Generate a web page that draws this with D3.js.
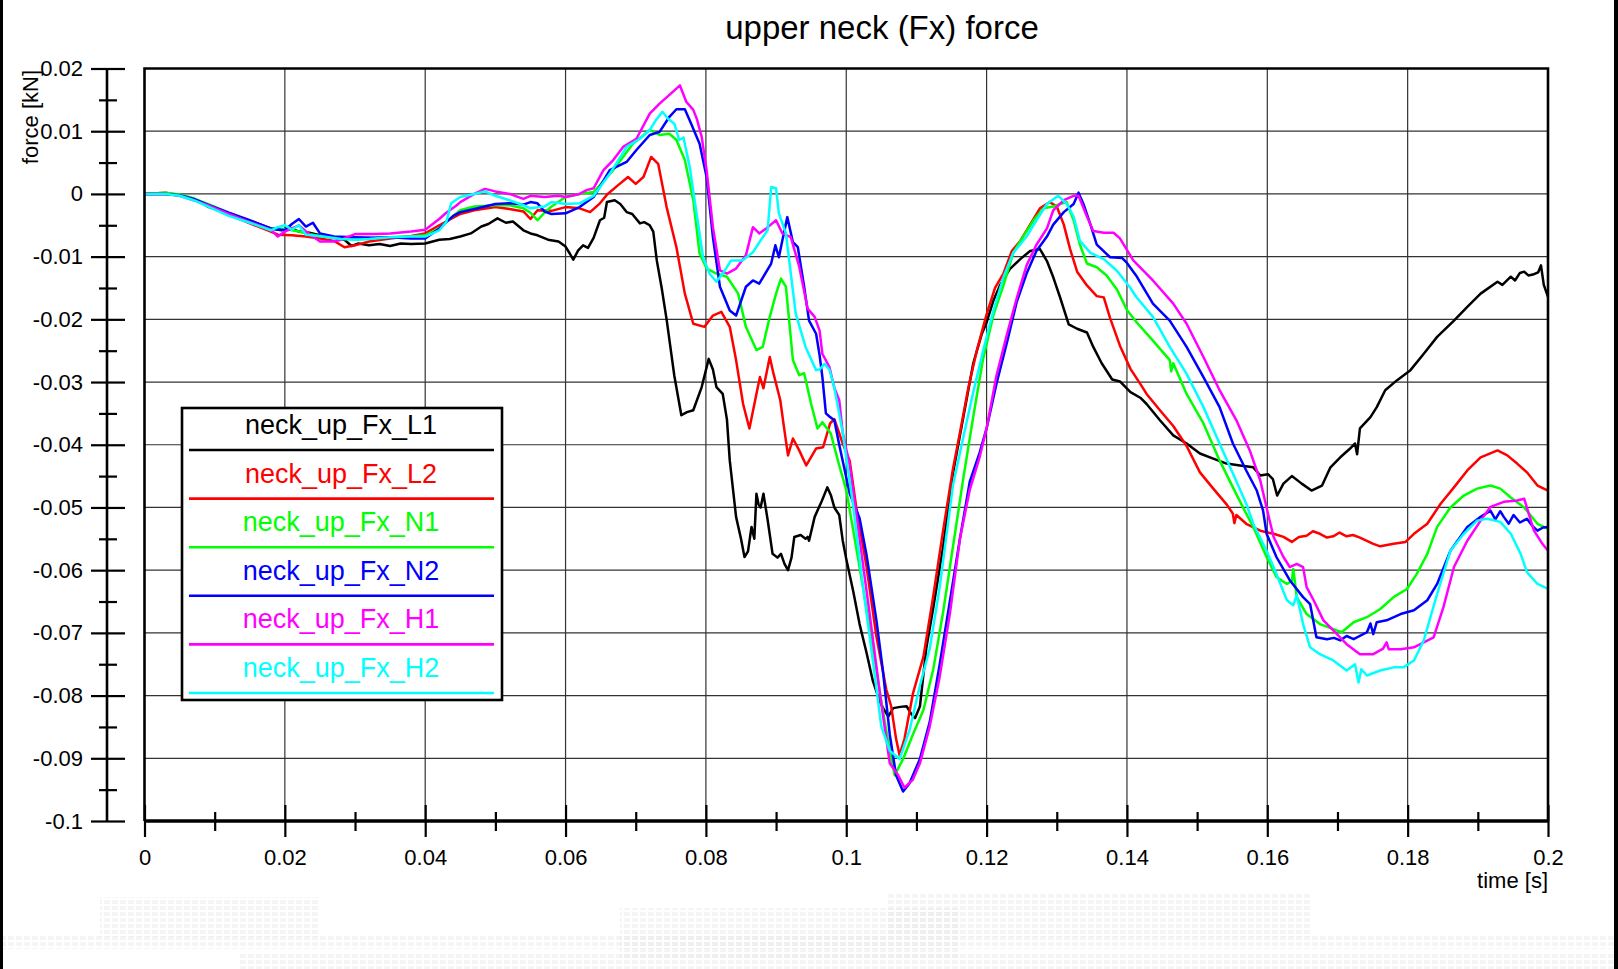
<!DOCTYPE html>
<meta charset="utf-8">
<title>upper neck (Fx) force</title>
<script src="https://d3js.org/d3.v7.min.js"></script>
<style>
body { margin: 0; background: #fff; }
svg { display: block; font-family: 'Liberation Sans', Arial, sans-serif; }
.tick text { font-size: 22px; fill: #000; }
</style>
<body>
<div id="chart"></div>
<script>
// [time in ms, force in N]  (1 N = 0.001 kN)
var L1 = [[0,0],[3,0],[5,-0.2],[7,-0.8],[9,-2],[12,-3.2],[15,-4.3],[18,-5.5],[19.5,-5.8],[20.5,-5.3],[22,-6],[23.5,-6.2],[25,-6.6],[27,-7],[28.5,-7.3],[29.5,-8.3],[30.5,-7.9],[32,-8.2],[33.5,-8],[35,-8.3],[36.5,-7.9],[38,-8],[40,-7.9],[42,-7.3],[43.5,-7.2],[45,-6.8],[46.5,-6.3],[48,-5.2],[49,-4.8],[50.3,-3.9],[51.5,-4.6],[52.5,-4.4],[54,-5.8],[55,-6.3],[56,-6.6],[57.5,-7.3],[59,-7.6],[60,-8.4],[60.6,-9.5],[61.1,-10.5],[61.8,-9],[62.5,-8.2],[63.2,-8.6],[64,-7],[64.9,-4.2],[65.5,-3.8],[65.9,-1.3],[67,-1],[67.8,-1.6],[68.7,-2.9],[69.5,-3.2],[70.6,-4.7],[71.2,-4.5],[72,-5],[72.5,-6],[73,-10.6],[73.7,-15],[74.4,-20],[75.5,-29],[76.5,-35.3],[77.3,-34.8],[78.2,-34.5],[79.4,-30.8],[80.4,-26.3],[81,-28],[81.5,-30.8],[82.4,-31.9],[83,-36],[83.4,-42.5],[84.3,-51.5],[85,-55],[85.5,-57.9],[86,-57],[86.5,-53.1],[86.9,-55],[87.2,-47.8],[87.5,-49.5],[87.8,-50],[88.2,-47.8],[88.8,-52],[89.5,-57.4],[90.2,-58],[90.7,-57.4],[91.2,-59],[91.7,-60],[92.2,-58],[92.6,-54.7],[93.5,-54.4],[94.2,-55],[94.5,-54.7],[94.7,-55.3],[95.5,-51.5],[96.5,-49],[97.3,-46.8],[97.8,-48],[98.3,-50],[99,-51.2],[99.5,-55.3],[100,-58.2],[101,-63.4],[101.9,-68.6],[102.9,-73.2],[103.8,-77.7],[104.8,-81],[105.5,-82.5],[106,-83.3],[106.7,-82],[107.7,-81.8],[108.6,-81.7],[109.3,-83],[109.8,-83.6],[110.5,-81.7],[111.4,-72.5],[112.4,-66],[113.8,-56.3],[115.2,-44.6],[116.7,-35.5],[118.1,-27],[119.3,-22.4],[120,-20.5],[121,-16.9],[121.9,-14.6],[123.3,-12],[124.8,-10.4],[126.2,-9.1],[127.6,-8.8],[128.6,-10.7],[129.5,-13.3],[130.5,-16.6],[131.7,-20.8],[132.9,-21.5],[134.3,-22.1],[135.2,-24.4],[136.4,-27],[137.9,-29.6],[139,-29.9],[140.5,-31.6],[141.9,-32.5],[142.8,-33.5],[144.7,-36.1],[146.6,-38.5],[148.5,-39.8],[150.4,-41.4],[152.3,-42.2],[154.2,-43],[156.1,-43.3],[158,-43.6],[159,-44.9],[160.1,-44.7],[160.8,-45.5],[161.4,-48.1],[162.3,-46.2],[163.5,-45],[164.9,-46.2],[166.3,-47.3],[167.8,-46.5],[169,-43.6],[170.4,-42],[171.8,-40.6],[172.5,-39.8],[172.8,-41.5],[173.2,-37.4],[174.7,-35.6],[175.6,-34],[176.8,-31.3],[178.5,-29.7],[180.4,-28.1],[182.3,-25.5],[184.2,-22.8],[186.6,-20.2],[188.5,-18],[190.4,-15.9],[192.8,-14],[193.5,-14.5],[194.7,-13.2],[195.3,-13.8],[196,-12.6],[196.6,-12.4],[197.2,-13],[198,-12.8],[198.6,-12.5],[199,-11.4],[199.4,-14.5],[200,-16.4]];

var L2 = [[0,0],[3,0.2],[5,-0.2],[7,-0.9],[9,-1.8],[12,-3.3],[15,-4.7],[18,-6],[19,-6.5],[21,-6.6],[23,-6.8],[25,-7.1],[27,-7.5],[28.5,-8.5],[30,-8.2],[32,-7.6],[35,-7.1],[38,-6.7],[40,-6.3],[42,-5],[44,-3.8],[45,-3.2],[47,-2.6],[50,-2.1],[52,-2.4],[54,-2.8],[55,-4],[56,-2.6],[58,-2.7],[60,-2.1],[62,-2.3],[63.5,-2.9],[64.9,-1.5],[66,0],[67.5,1.4],[68.9,2.7],[70,1.6],[71.1,2.7],[72.2,5.9],[73.2,4.8],[74.4,-2.1],[75.8,-8.5],[77,-15.9],[78.2,-20.7],[79.8,-21.2],[81,-19.4],[82.2,-18.8],[83.4,-21.2],[84.3,-26.5],[85.3,-33.5],[86.2,-37.4],[87.2,-31.9],[87.7,-29.2],[88.2,-31],[89.1,-26],[89.6,-28.5],[90.6,-32.9],[91.1,-37],[91.7,-41.7],[92.4,-39],[93.3,-40.9],[94.3,-43.3],[95.7,-40.6],[96.7,-40.4],[97.7,-36.6],[98.3,-35.9],[99.5,-39.8],[100.5,-42.6],[101.4,-49.8],[102.9,-59.5],[104.3,-70.6],[105.7,-79],[106.4,-81.7],[107.1,-86.9],[107.6,-89.5],[108.3,-86.9],[109.5,-79.7],[111,-73.8],[112.4,-64.1],[113.8,-53.7],[115.2,-43.9],[116.2,-38.1],[117.4,-30.9],[118.6,-25],[120,-19.2],[121.2,-15],[122.4,-12.7],[123.6,-9.1],[124.8,-7.5],[126.2,-4.9],[127.6,-2.3],[129,-1.3],[130,-2],[131,-4.9],[131.9,-8.8],[132.9,-12.4],[134.3,-14.6],[135.7,-16.3],[136.7,-16.5],[137.6,-19.8],[139,-24.2],[140.5,-27.9],[141.9,-30.3],[142.8,-31.9],[144.7,-34.5],[146.6,-37],[148.5,-40.2],[150.4,-44.4],[152.3,-47],[154.2,-49.5],[155.1,-51],[155.3,-52.5],[155.6,-51.2],[157,-52.6],[159,-53.7],[160.9,-54.2],[162.3,-54.7],[163.5,-55.5],[164.5,-54.7],[165.6,-54.5],[166.5,-53.8],[167.5,-54.2],[168.5,-54.8],[169.4,-54.6],[170.3,-54],[171.3,-54.6],[172.2,-54.4],[173.2,-54.8],[175.1,-55.8],[176.1,-56.2],[178,-55.8],[179.7,-55.5],[180.9,-54.2],[182.8,-52.6],[184.7,-49.4],[186.6,-46.8],[188.5,-44.1],[190.4,-42],[192.8,-40.9],[194.2,-41.7],[195.6,-43],[197,-44.4],[198.5,-46.5],[200,-47.3]];

var N1 = [[0,0],[3,0.2],[5,-0.1],[7,-0.7],[9,-1.6],[12,-3],[15,-4.3],[18,-5.5],[20,-5.6],[22,-6],[25,-6.8],[28,-7],[30,-7.3],[33,-7],[35,-6.9],[38,-6.8],[40,-6.6],[42,-5.5],[44,-3.5],[45,-2.6],[47,-2],[50,-1.8],[52,-1.8],[54,-2.3],[55,-3],[56,-4.2],[57,-3],[58,-2],[60,-0.5],[62,0],[64,0.3],[66.8,3.8],[69.6,8],[72,10.2],[73.4,9.4],[74.8,9.6],[75.8,8.6],[77,5.4],[78.2,-1],[79.1,-9.5],[80.1,-11.9],[81.5,-12.7],[83,-13.2],[84.6,-15.9],[85.7,-21.2],[87.2,-24.9],[88.1,-24.4],[89.1,-19.6],[90,-15.9],[90.7,-13.5],[91.4,-14.8],[92.4,-26.5],[93.3,-28.9],[94,-28.6],[95,-33.5],[95.9,-37.4],[96.6,-36.4],[97.8,-38.2],[99,-43.3],[100,-47.2],[101,-53.7],[102.4,-62.8],[103.8,-72.5],[105.2,-82.3],[106.2,-88.8],[106.9,-92.7],[108.1,-90.1],[109.5,-86.2],[111,-82.3],[112.4,-75.8],[113.8,-66.7],[115.2,-56.3],[116.7,-45.2],[118.1,-35.5],[119.5,-26.3],[121,-19.2],[122.4,-14.6],[123.8,-9.4],[125.2,-6.8],[126.7,-4.2],[128.1,-2.3],[129.5,-2],[130.5,-1.6],[131.4,-1.3],[132.4,-4.2],[133.3,-8.1],[134.3,-11.1],[135.7,-11.7],[137.1,-13],[138.6,-15.3],[140,-18.5],[141.4,-20.5],[143.7,-23.4],[146.1,-26.5],[146.3,-28.3],[146.6,-27],[148.5,-31.9],[150.9,-36.6],[153.2,-42.5],[155.1,-46.8],[157,-51],[158,-53.1],[159.9,-57.9],[161.3,-61.1],[162.8,-62.2],[163.5,-61.7],[163.7,-59.8],[164.2,-64.3],[165.6,-67],[167.5,-68.6],[169.4,-69.4],[170.6,-69.9],[172.3,-68.3],[174.2,-67.5],[176.1,-66.2],[178,-64.3],[179.9,-63],[181.3,-60.6],[182.8,-57.4],[184.2,-53.1],[186.1,-50],[188,-48.1],[189.9,-47],[191.8,-46.5],[193.2,-47],[194.7,-48.4],[196.6,-50],[198.5,-52.6],[200,-53.4]];

var N2 = [[0,0],[3,0],[5,-0.2],[7,-0.8],[9,-1.7],[12,-3],[15,-4.2],[18,-5.5],[20,-5.8],[21,-4.8],[22,-4],[23,-5.2],[24,-4.6],[25,-6.3],[27,-6.8],[30,-6.9],[33,-7],[35,-6.9],[38,-7.1],[40,-7.1],[42,-5.5],[44,-3.5],[45,-2.9],[47,-2.4],[50,-1.6],[52,-1.5],[54,-1.7],[55,-1.3],[56,-1.5],[57,-2.8],[58,-3.2],[60,-3.1],[62,-2.1],[64,-0.5],[66.3,3.8],[68.7,5.1],[70.1,7],[72,9.4],[73.4,9.9],[74.8,12.3],[75.8,13.5],[77,13.5],[77.9,11.2],[79.1,8],[80.1,2.7],[81,-6.9],[82,-14.8],[83.4,-18.6],[84.3,-19.4],[85.7,-14.8],[86.7,-13.8],[87.6,-14.3],[89.3,-11.1],[89.9,-8.2],[90.4,-10.1],[90.9,-7.4],[91.6,-3.7],[92.4,-7.7],[93.1,-8.5],[94,-14.8],[94.7,-20.2],[95.7,-22.3],[96.2,-25.7],[96.6,-29.2],[97.1,-35],[97.6,-35.5],[98.3,-36.1],[99,-40],[100.5,-47.8],[101.9,-51.7],[102.9,-57.6],[104.3,-68],[105.2,-75.8],[106.2,-86.2],[107.1,-92.7],[108.1,-95.3],[109,-94],[110.5,-90.1],[111.9,-84.2],[113.3,-75.1],[114.8,-64.7],[116.2,-55],[117.6,-45.9],[119,-41.3],[120,-37.4],[121.4,-30.3],[122.9,-23.7],[124.3,-17.2],[125.7,-12.7],[127.1,-9.1],[128.6,-6.8],[129.5,-4.9],[131,-2.9],[132.4,-1.6],[133.1,0.2],[133.8,-1.6],[134.8,-4.9],[135.7,-8.1],[137.6,-10.1],[139.3,-10.2],[140,-11],[141.3,-13],[143.7,-17.5],[146.1,-20.2],[148.5,-24.4],[150.9,-29.2],[153.2,-34],[155.1,-39.8],[157,-44.1],[158.5,-47.3],[159.4,-50.5],[159.9,-54.2],[161.3,-57.9],[163.2,-61.6],[165.1,-64.3],[166.1,-65.4],[167,-70.7],[168.5,-71],[169.5,-70.8],[170.4,-71.2],[171.3,-70.5],[172.3,-71],[174.2,-69.9],[174.7,-68.5],[175.1,-70.2],[175.6,-68.3],[177,-68],[179,-67],[180.9,-66.4],[182.8,-64.8],[184.2,-62.2],[186.1,-56.9],[188.5,-53.1],[190.4,-51.5],[191.8,-50.5],[192.5,-51.9],[193.2,-50.6],[193.7,-51.5],[194.4,-52.6],[195.1,-51.2],[196,-52.4],[197,-51.8],[197.8,-53],[198.5,-53.7],[199.3,-53.2],[200,-53.1]];

var H1 = [[0,0],[3,0],[5,-0.3],[7,-1],[9,-1.8],[12,-3.2],[15,-4.5],[18,-5.7],[19,-6.8],[20,-6],[21,-5.5],[22,-5],[23,-6],[24,-6.8],[25,-7.6],[27,-7.6],[28,-7.3],[30,-6.4],[33,-6.4],[35,-6.3],[38,-6],[40,-5.7],[42,-4],[43,-3],[44.5,-1.8],[45,-1.3],[47,0],[48.5,0.8],[50,0.4],[52,0],[54,-0.8],[55,-0.3],[57,-0.5],[59,-0.3],[60,-0.5],[62,0],[63,0.6],[64,0.9],[65.4,3.8],[66.8,5.4],[68.2,7.5],[70.1,8.8],[72,12.8],[73.4,14.4],[75,16],[76.3,17.3],[77.2,14.7],[78.2,13.4],[78.7,12],[79.4,9.1],[80.1,3.8],[81,-5.3],[82,-12.2],[83,-12.7],[84.3,-11.9],[85.7,-9.8],[86.7,-5.3],[87.6,-6.3],[88.6,-5.5],[90,-4.2],[90.9,-6.3],[92.1,-6.9],[93.3,-11.6],[94.5,-18.3],[95.5,-19.6],[96.2,-21.8],[96.6,-25.5],[97.6,-27.6],[98.3,-30.9],[99,-32.9],[99.5,-38.1],[100.5,-43.3],[101.9,-55],[103.3,-66.7],[104.8,-79.7],[106.2,-90.8],[107.4,-92.7],[108.3,-94.7],[109.5,-93.4],[110.5,-90.8],[111.9,-84.9],[113.3,-77.1],[114.8,-66.7],[116.2,-55],[117.6,-47.2],[119,-42],[120,-37.4],[121.4,-29],[122.9,-22.4],[124.3,-16.6],[125.7,-11.4],[127.1,-8.1],[128.6,-5.5],[129.5,-2.6],[131,-1],[132.4,-0.3],[133.1,-0.3],[134.3,-3.6],[135.2,-5.9],[136.7,-6.2],[138.1,-6.2],[139,-7.1],[140.9,-10.6],[143.7,-13.8],[146.6,-17.5],[148.5,-20.7],[150.9,-26],[153.2,-31.3],[155.6,-36.1],[157.5,-40.9],[159,-45.7],[160.1,-51],[160.9,-54.7],[162.3,-57.9],[163.2,-59.5],[164.2,-59],[165.1,-59.5],[165.6,-62.7],[166.6,-64.8],[168,-68],[169.4,-69.6],[171.3,-71.8],[173.2,-73.4],[175.1,-73.4],[176.5,-72.5],[177,-71.5],[177.3,-72.6],[179,-72.6],[180.9,-72.3],[182.3,-71.5],[183.7,-70.7],[185.1,-65.9],[186.6,-59.5],[188.5,-55.3],[190.4,-52.1],[191.8,-49.9],[193.7,-49.1],[195.6,-48.9],[196.6,-48.6],[198,-53.7],[199.2,-55.8],[200,-56.9]];

var H2 = [[0,0],[3,0],[5,-0.3],[7,-1],[9,-2],[12,-3.5],[15,-4.6],[18,-5.8],[19,-5.3],[20,-5],[21,-5.7],[22,-5],[23,-6.5],[25,-6.7],[28,-7.2],[30,-7.3],[32,-7.2],[35,-6.9],[38,-6.8],[40,-6.8],[42,-5.8],[43,-4.5],[43.7,-1.5],[45,-0.5],[47,0],[48.5,0.4],[50,-0.3],[52,-1],[54,-1.8],[55,-2.3],[57,-2],[58,-1.3],[60,-1.6],[62,-1.5],[64,-0.3],[66.3,3.2],[68.7,7.5],[70.6,8.8],[72,10.2],[72.9,11.8],[73.8,13.1],[74.6,12],[75.5,11.2],[76.2,8.6],[76.8,9],[77.7,4.3],[78.6,-2.6],[79.6,-10.1],[80.5,-12.7],[81.5,-14],[82.4,-12.7],[83.6,-10.6],[85.2,-10.6],[86.7,-9.3],[88.1,-6.9],[88.8,-5.8],[89.3,1.1],[90,0.9],[90.4,-3.1],[91.4,-6.3],[92.1,-12.7],[92.8,-19.1],[94.2,-24.4],[95.7,-28.1],[96.2,-28],[96.9,-27.1],[97.6,-28],[98.3,-30.9],[99.5,-38.1],[101,-49.8],[102.4,-62.8],[103.8,-74.5],[105,-84.9],[106.2,-88.8],[107.6,-90.1],[109,-85.6],[110.5,-78.4],[111.9,-72.5],[113.3,-62.8],[115.2,-46.5],[116.7,-38.7],[118.1,-31.6],[119.5,-25],[121,-18.5],[122.4,-13.3],[123.8,-9.4],[125.7,-6.8],[127.1,-4.2],[128.6,-1.6],[130.2,-0.3],[131.4,-1.6],[132.4,-3.6],[133.3,-7.5],[134.8,-9.4],[136.7,-10.4],[138.6,-12.3],[140.5,-15],[141.3,-16.4],[143.7,-19.6],[146.1,-24.4],[148.5,-28.7],[150.9,-34],[153.2,-39.8],[155.1,-44.6],[157,-49.4],[158,-52.6],[159.9,-56.9],[161.3,-60.6],[162.8,-64.8],[163.7,-65.6],[164.2,-64],[165.1,-68.6],[166.1,-72.3],[167.5,-73.4],[169.4,-74.4],[171.3,-76],[172.5,-75],[173,-77.9],[173.4,-75.8],[174.2,-76.8],[176.1,-76],[178,-75.5],[179.4,-75.5],[180.9,-74.4],[182.3,-71.2],[184.2,-63.8],[186.1,-56.9],[188,-54.2],[189.9,-52.1],[191.3,-51.8],[193.2,-52.3],[194.7,-54.2],[196.1,-57.4],[197,-60.3],[198.5,-62.2],[200,-63]];

var seriesNames = ["neck_up_Fx_L1", "neck_up_Fx_L2", "neck_up_Fx_N1", "neck_up_Fx_N2", "neck_up_Fx_H1", "neck_up_Fx_H2"];
var seriesColors = ["#000000", "#ff0000", "#00ff00", "#0000ff", "#ff00ff", "#00ffff"];
var seriesData = [L1, L2, N1, N2, H1, H2];

var xTicks = [0, 0.02, 0.04, 0.06, 0.08, 0.1, 0.12, 0.14, 0.16, 0.18, 0.2];
var xMinor = [0.01, 0.03, 0.05, 0.07, 0.09, 0.11, 0.13, 0.15, 0.17, 0.19];
var yTicks = [0.02, 0.01, 0, -0.01, -0.02, -0.03, -0.04, -0.05, -0.06, -0.07, -0.08, -0.09, -0.1];
var yMinor = [0.015, 0.005, -0.005, -0.015, -0.025, -0.035, -0.045, -0.055, -0.065, -0.075, -0.085, -0.095];

var W = 1618, H = 969;
var fmt = function(d) { return String(+d.toFixed(2)); };

var svg = d3.select("#chart").append("svg")
    .attr("width", W)
    .attr("height", H);

svg.append("rect").attr("width", W).attr("height", H).attr("fill", "#fff");

// faint dotted watermark near the bottom
var defs = svg.append("defs");
defs.append("pattern")
    .attr("id", "dots")
    .attr("width", 8).attr("height", 6)
    .attr("patternUnits", "userSpaceOnUse")
    .append("rect").attr("width", 6).attr("height", 4).attr("fill", "#e8e8e8");
var wm = [[100, 897, 220, 40], [620, 908, 340, 50], [888, 893, 423, 44], [0, 935, 1618, 14], [240, 952, 1378, 17]];
svg.selectAll(".wm").data(wm).enter().append("rect")
    .attr("class", "wm")
    .attr("x", function(d) { return d[0]; })
    .attr("y", function(d) { return d[1]; })
    .attr("width", function(d) { return d[2]; })
    .attr("height", function(d) { return d[3]; })
    .attr("fill", "url(#dots)")
    .attr("opacity", 0.45);

// dark edges of the screenshot
svg.append("rect").attr("x", 0).attr("y", 0).attr("width", 3).attr("height", H).attr("fill", "#000");
svg.append("rect").attr("x", 1614).attr("y", 0).attr("width", 4).attr("height", H).attr("fill", "#000");

var x = d3.scaleLinear().domain([0, 0.2]).range([144.5, 1548]);
var y = d3.scaleLinear().domain([-0.1, 0.02]).range([821, 68.5]);

// grid
svg.append("g").selectAll("line").data(xTicks.slice(1, -1)).enter().append("line")
    .attr("x1", function(d) { return x(d); })
    .attr("x2", function(d) { return x(d); })
    .attr("y1", y(0.02))
    .attr("y2", y(-0.1))
    .attr("stroke", "#333")
    .attr("stroke-width", 1.2);
svg.append("g").selectAll("line").data(yTicks.slice(1, -1)).enter().append("line")
    .attr("x1", x(0))
    .attr("x2", x(0.2))
    .attr("y1", function(d) { return y(d); })
    .attr("y2", function(d) { return y(d); })
    .attr("stroke", "#333")
    .attr("stroke-width", 1.2);

// series
var line = d3.line()
    .x(function(d) { return x(d[0] / 1000); })
    .y(function(d) { return y(d[1] / 1000); });
svg.append("g").selectAll("path").data(seriesData).enter().append("path")
    .attr("d", line)
    .attr("fill", "none")
    .attr("stroke", function(d, i) { return seriesColors[i]; })
    .attr("stroke-width", 2.5)
    .attr("stroke-linejoin", "round");

// frame (left, top, right)
svg.append("path")
    .attr("d", "M" + x(0) + "," + y(-0.1) + "V" + y(0.02) + "H" + x(0.2) + "V" + y(-0.1))
    .attr("fill", "none")
    .attr("stroke", "#000")
    .attr("stroke-width", 2.6);

// x axis
var xAxisY = y(-0.1);
svg.append("line")
    .attr("x1", x(0)).attr("x2", x(0.2))
    .attr("y1", xAxisY).attr("y2", xAxisY)
    .attr("stroke", "#000").attr("stroke-width", 3.4);
var gxb = svg.append("g").attr("transform", "translate(0," + xAxisY + ")")
    .call(d3.axisBottom(x).tickValues(xTicks).tickSize(16).tickPadding(12).tickFormat(fmt));
var gxt = svg.append("g").attr("transform", "translate(0," + xAxisY + ")")
    .call(d3.axisTop(x).tickValues(xTicks).tickSize(16).tickFormat(""));
var gxbm = svg.append("g").attr("transform", "translate(0," + xAxisY + ")")
    .call(d3.axisBottom(x).tickValues(xMinor).tickSize(10).tickFormat(""));
var gxtm = svg.append("g").attr("transform", "translate(0," + xAxisY + ")")
    .call(d3.axisTop(x).tickValues(xMinor).tickSize(9).tickFormat(""));

// y axis, detached on the left
var yAxisX = 107;
svg.append("line")
    .attr("x1", yAxisX).attr("x2", yAxisX)
    .attr("y1", y(0.02)).attr("y2", y(-0.1))
    .attr("stroke", "#000").attr("stroke-width", 2.6);
var gyl = svg.append("g").attr("transform", "translate(" + yAxisX + ",0)")
    .call(d3.axisLeft(y).tickValues(yTicks).tickSize(16).tickPadding(8).tickFormat(fmt));
var gyr = svg.append("g").attr("transform", "translate(" + yAxisX + ",0)")
    .call(d3.axisRight(y).tickValues(yTicks).tickSize(18).tickFormat(""));
var gylm = svg.append("g").attr("transform", "translate(" + yAxisX + ",0)")
    .call(d3.axisLeft(y).tickValues(yMinor).tickSize(8).tickFormat(""));
var gyrm = svg.append("g").attr("transform", "translate(" + yAxisX + ",0)")
    .call(d3.axisRight(y).tickValues(yMinor).tickSize(10).tickFormat(""));

[gxb, gxt, gxbm, gxtm, gyl, gyr, gylm, gyrm].forEach(function(g) {
    g.select(".domain").remove();
    g.selectAll(".tick line").attr("stroke", "#000").attr("stroke-width", 2.2);
    g.selectAll(".tick text").style("font-family", "'Liberation Sans', Arial, sans-serif");
});

// titles
svg.append("text")
    .attr("x", 882).attr("y", 39)
    .attr("text-anchor", "middle")
    .style("font-size", "33px")
    .text("upper neck (Fx) force");
svg.append("text")
    .attr("transform", "translate(38,70) rotate(-90)")
    .attr("text-anchor", "end")
    .style("font-size", "22px")
    .text("force [kN]");
svg.append("text")
    .attr("x", 1548).attr("y", 888)
    .attr("text-anchor", "end")
    .style("font-size", "22px")
    .text("time [s]");

// legend
var lg = svg.append("g");
lg.append("rect")
    .attr("x", 182).attr("y", 408)
    .attr("width", 320).attr("height", 292)
    .attr("fill", "#fff")
    .attr("stroke", "#000")
    .attr("stroke-width", 2.6);
var item = lg.selectAll(".item").data(seriesNames).enter().append("g")
    .attr("class", "item")
    .attr("transform", function(d, i) { return "translate(0," + (i * 48.6) + ")"; });
item.append("text")
    .attr("x", 341).attr("y", 434)
    .attr("text-anchor", "middle")
    .style("font-size", "27px")
    .attr("fill", function(d, i) { return seriesColors[i]; })
    .text(function(d) { return d; });
item.append("line")
    .attr("x1", 189).attr("x2", 494)
    .attr("y1", 450).attr("y2", 450)
    .attr("stroke", function(d, i) { return seriesColors[i]; })
    .attr("stroke-width", 2.6);
</script>
